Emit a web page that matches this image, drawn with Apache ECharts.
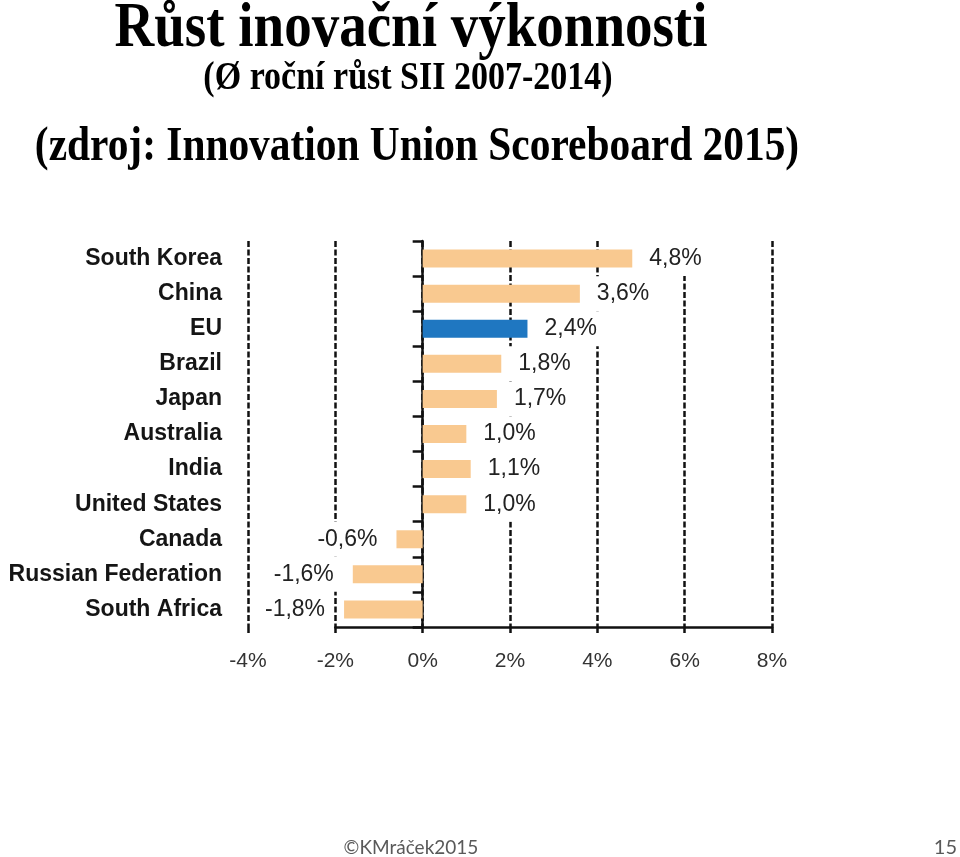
<!DOCTYPE html>
<html>
<head>
<meta charset="utf-8">
<script src="https://cdn.jsdelivr.net/npm/echarts@6/dist/echarts.min.js"></script>
<style>
html,body{margin:0;padding:0;background:#fff;}
#c{width:960px;height:857px;}
</style>
</head>
<body>
<div id="c"></div>
<script>
// ---- data ----
const categories = ['South Korea','China','EU','Brazil','Japan','Australia','India','United States','Canada','Russian Federation','South Africa'];
const values = [4.8, 3.6, 2.4, 1.8, 1.7, 1.0, 1.1, 1.0, -0.6, -1.6, -1.8];
const highlightCategory = 'EU';
const xMin = -4, xMax = 8, xInterval = 2;
const axisLineStart = -2;
const titleLines = ['Růst inovační výkonnosti', '(Ø roční růst SII 2007-2014)', '(zdroj: Innovation Union Scoreboard 2015)'];
const footerText = '©KMráček2015';
const pageNumber = '15';

// ---- styling ----
const peach = '#F9C990';
const blue = '#1F77C1';
const gridLeft = 248, gridRight = 188, gridTop = 241, gridBottom = 230;
const plotW = 960 - gridLeft - gridRight;
const leftGrid1 = gridLeft + plotW * (axisLineStart - xMin) / (xMax - xMin);

const chart = echarts.init(document.getElementById('c'));

const barData = values.map((v, i) => {
  const pos = v >= 0;
  return {
    value: v,
    itemStyle: { color: categories[i] === highlightCategory ? blue : peach },
    label: pos
      ? { position: 'right', distance: 5, padding: [6, 6, 6, 12] }
      : { position: 'left', distance: 12, padding: [6, 7, 6, 10] }
  };
});

function titleText(txt, x, y, size) {
  return {
    type: 'text', x: x, y: y, scaleY: 1.15,
    style: {
      text: txt, font: 'bold ' + size + 'px "Liberation Serif"', fill: '#000',
      align: 'center', verticalAlign: 'middle', textAlign: 'center', textVerticalAlign: 'middle'
    }
  };
}

const option = {
  backgroundColor: '#fff',
  animation: false,
  grid: [
    { left: gridLeft, right: gridRight, top: gridTop, bottom: gridBottom },
    { left: leftGrid1, right: gridRight, top: gridTop, bottom: gridBottom }
  ],
  xAxis: [
    {
      type: 'value', gridIndex: 0, min: xMin, max: xMax, interval: xInterval,
      axisLine: { show: false },
      axisTick: { show: true, length: 6, lineStyle: { color: '#111', width: 2.5 } },
      axisLabel: {
        formatter: '{value}%', fontSize: 21, color: '#333', margin: 24,
        fontFamily: '"Liberation Sans", Arial, sans-serif'
      },
      splitLine: { show: true, lineStyle: { color: '#111', width: 2.5, type: [6, 2.5] } }
    },
    {
      type: 'value', gridIndex: 1, min: axisLineStart, max: xMax, interval: xInterval,
      axisLine: { show: true, onZero: false, lineStyle: { color: '#111', width: 2.5 } },
      axisTick: { show: false }, axisLabel: { show: false }, splitLine: { show: false }
    }
  ],
  yAxis: [
    {
      type: 'category', gridIndex: 0, data: categories, inverse: true, position: 'left',
      axisLine: { show: true, onZero: true, lineStyle: { color: '#111', width: 2.5 } },
      axisTick: { show: true, length: 10, lineStyle: { color: '#111', width: 2.5 } },
      axisLabel: { show: false }, splitLine: { show: false }
    },
    {
      type: 'category', gridIndex: 0, data: categories, inverse: true, position: 'left',
      axisLine: { show: false, onZero: false }, axisTick: { show: false },
      axisLabel: {
        fontSize: 23, fontWeight: 'bold', color: '#151515', margin: 26,
        fontFamily: '"Liberation Sans", Arial, sans-serif'
      },
      splitLine: { show: false }
    },
    {
      type: 'value', gridIndex: 1, min: 0, max: 1, show: false
    }
  ],
  series: [
    {
      type: 'bar', xAxisIndex: 0, yAxisIndex: 0, barWidth: 18,
      data: barData,
      label: {
        show: true, fontSize: 23, lineHeight: 23, color: '#222', backgroundColor: '#fff',
        fontFamily: '"Liberation Sans", Arial, sans-serif',
        formatter: p => p.value.toFixed(1).replace('.', ',') + '%'
      }
    }
  ],
  graphic: [
    titleText(titleLines[0], 411, 30, 55),
    titleText(titleLines[1], 408, 79, 34),
    titleText(titleLines[2], 417, 148, 41.4),
    {
      type: 'text', x: 411, y: 848,
      style: { text: footerText, font: '19px Lato', fill: '#595959', align: 'center', verticalAlign: 'middle', textAlign: 'center', textVerticalAlign: 'middle' }
    },
    {
      type: 'text', x: 957, y: 848,
      style: { text: pageNumber, font: '20px Lato', fill: '#595959', align: 'right', verticalAlign: 'middle', textAlign: 'right', textVerticalAlign: 'middle' }
    }
  ]
};
chart.setOption(option);
</script>
</body>
</html>
